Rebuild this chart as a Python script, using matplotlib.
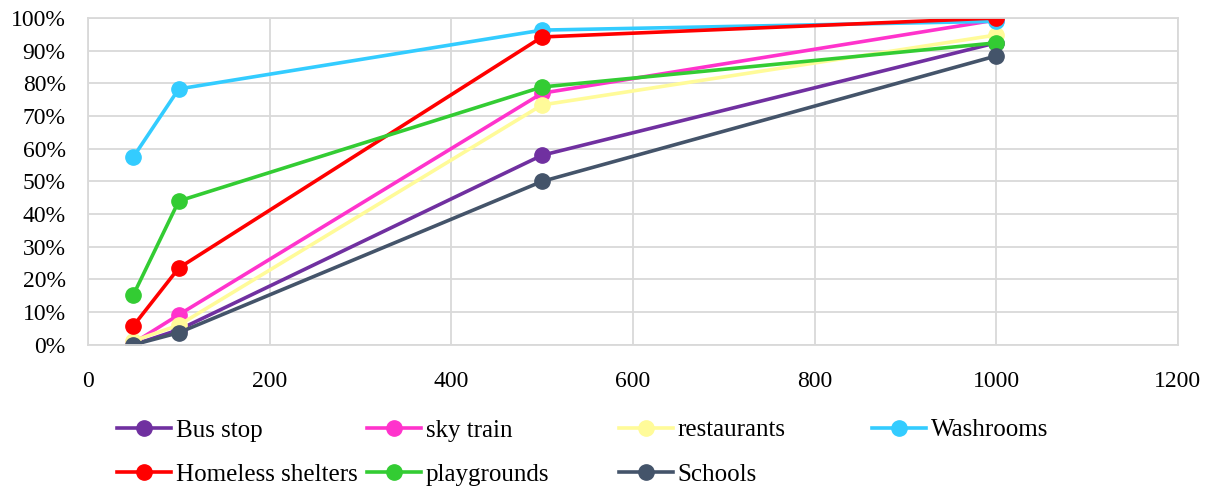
import matplotlib
matplotlib.use("Agg")
import matplotlib.pyplot as plt
from matplotlib.ticker import PercentFormatter

plt.rcParams["font.family"] = ["Liberation Serif", "DejaVu Serif"]

distance = [50, 100, 500, 1000]
bus_stop = [0.0, 4.6, 58.0, 92.4]
sky_train = [0.5, 9.2, 77.0, 99.4]
restaurants = [1.2, 6.0, 73.4, 94.8]
washrooms = [57.5, 78.3, 96.3, 99.0]
homeless = [5.8, 23.5, 94.2, 100.0]
playgrounds = [15.3, 44.0, 78.9, 92.4]
schools = [0.0, 3.7, 50.0, 88.4]

names = ["Bus stop", "sky train", "restaurants", "Washrooms",
         "Homeless shelters", "playgrounds", "Schools"]
series = [bus_stop, sky_train, restaurants, washrooms, homeless, playgrounds, schools]
colors = ["#7030A0", "#FF33CC", "#FFFB99", "#33CCFF", "#FF0000", "#33CC33", "#44546A"]

fig = plt.figure(figsize=(12.15, 4.87), dpi=100)
ax = fig.add_axes([0.0724, 0.292, 0.897, 0.671])

lines = []
for name, ys, c in zip(names, series, colors):
    ln, = ax.plot(distance, ys, "-o", color=c, lw=2.6, ms=11, label=name)
    lines.append(ln)

ax.set_xlim(0, 1200)
ax.set_ylim(0, 100)
ax.set_xticks(range(0, 1201, 200))
ax.set_yticks(range(0, 101, 10))
ax.yaxis.set_major_formatter(PercentFormatter(decimals=0))
ax.grid(True, color="#D9D9D9", lw=1.3)
ax.set_axisbelow(True)
for s in ax.spines.values():
    s.set_color("#D9D9D9")
    s.set_linewidth(1.3)
ax.tick_params(length=0, labelsize=17)
ax.tick_params(axis="y", pad=16)
ax.tick_params(axis="x", pad=19)

# legend laid out as 4 fixed-width columns, filled row by row
col_x = [117, 367, 619, 872]
for i, x in enumerate(col_x):
    hs = lines[i::4]
    fig.legend(handles=hs, labels=[h.get_label() for h in hs],
               loc="upper left", bbox_to_anchor=(x / 1215, 1 - 419 / 487),
               frameon=False, fontsize=18, handlelength=2.15, handletextpad=0.2,
               labelspacing=0.88, borderpad=0, borderaxespad=0)

fig.savefig("out.png", dpi=100)
